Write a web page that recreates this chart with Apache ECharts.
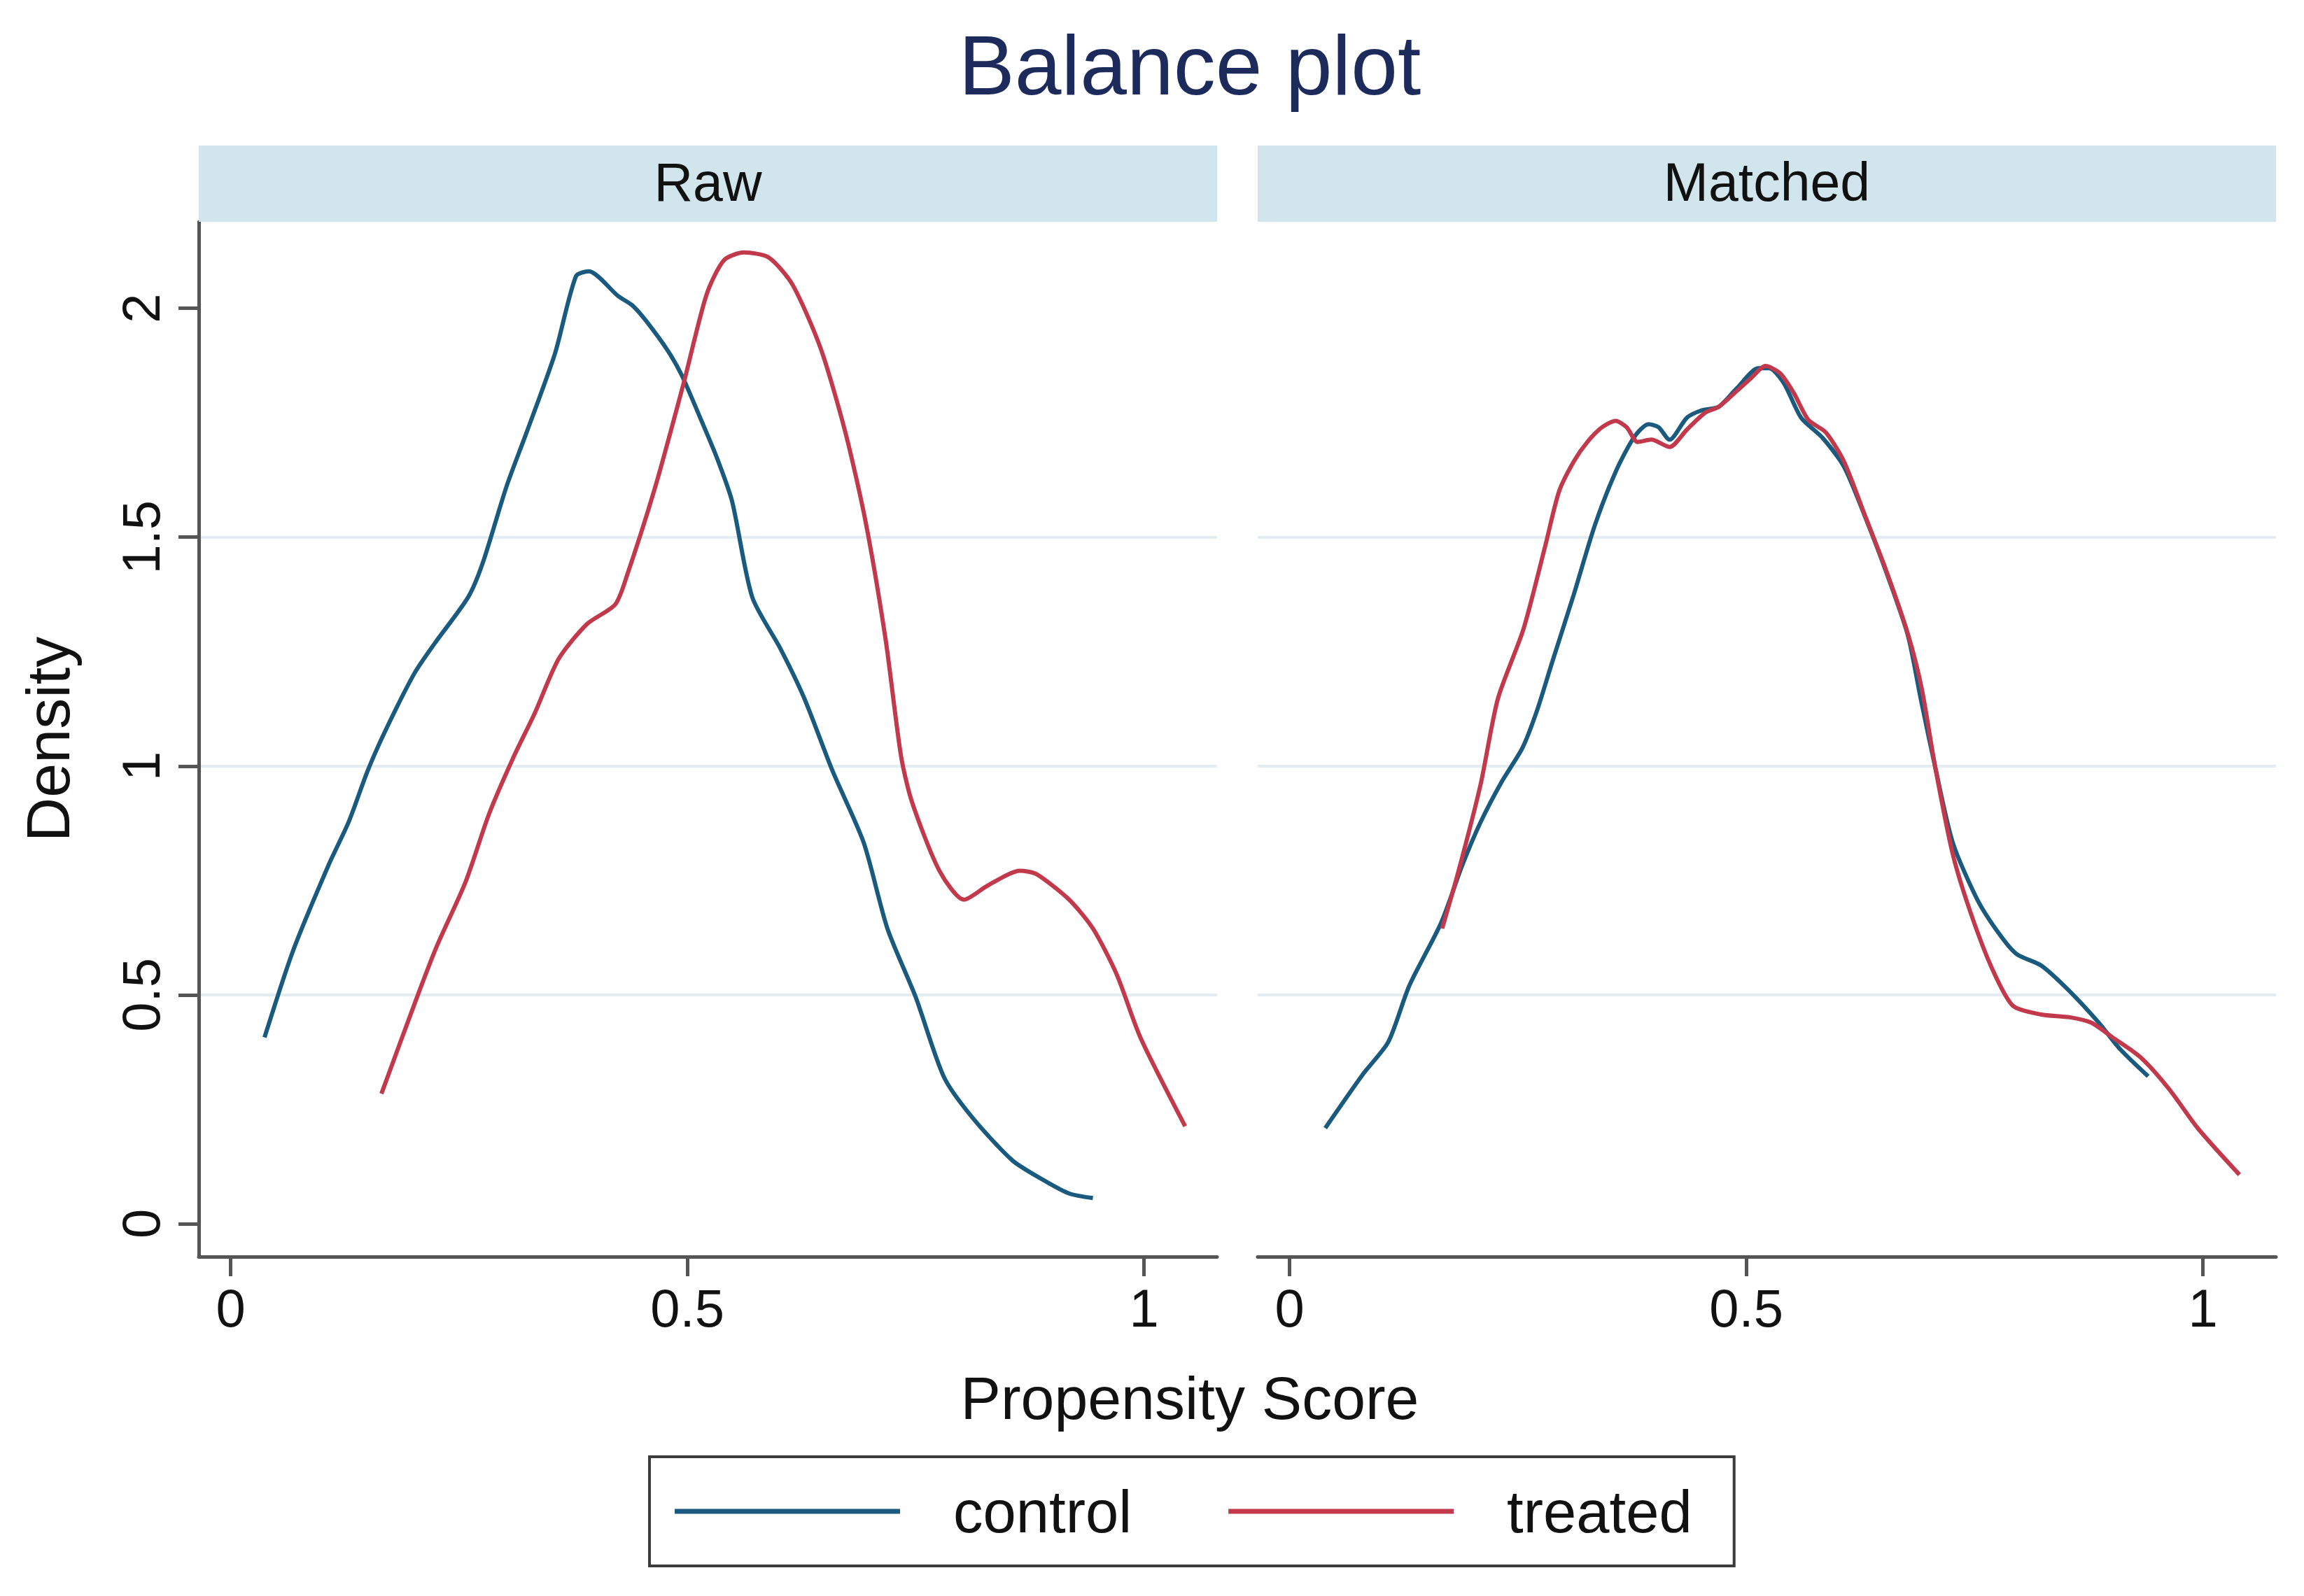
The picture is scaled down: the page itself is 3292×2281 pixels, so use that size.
<!DOCTYPE html>
<html>
<head>
<meta charset="utf-8">
<title>Balance plot</title>
<script src="https://cdn.jsdelivr.net/npm/echarts@6/dist/echarts.min.js"></script>
<style>
  html, body { margin: 0; padding: 0; background: #fff; }
  #main { width: 3292px; height: 2281px; }
</style>
</head>
<body>
<div id="main"></div>
<script>
// panels and groups
const panels = ['Raw', 'Matched'];
const groups = ['control', 'treated'];
const xTicks = [0, 0.5, 1];
const yTicks = [0, 0.5, 1, 1.5, 2];

// density curves: [propensity score, density]
const rawControl = [
  [0.037, 0.407], [0.068, 0.595], [0.107, 0.783], [0.129, 0.877], [0.150, 0.990],
  [0.170, 1.080], [0.201, 1.202], [0.223, 1.267], [0.260, 1.369], [0.276, 1.444],
  [0.302, 1.611], [0.324, 1.729], [0.355, 1.901], [0.378, 2.070], [0.392, 2.081],
  [0.424, 2.027], [0.440, 2.006], [0.455, 1.972], [0.479, 1.906], [0.494, 1.853],
  [0.514, 1.761], [0.532, 1.675], [0.549, 1.578], [0.571, 1.369], [0.602, 1.256],
  [0.628, 1.148], [0.659, 0.989], [0.693, 0.833], [0.719, 0.645], [0.750, 0.495],
  [0.781, 0.320], [0.812, 0.232], [0.856, 0.138], [0.891, 0.094], [0.918, 0.066],
  [0.944, 0.056]
];
const rawTreated = [
  [0.165, 0.284], [0.204, 0.495], [0.226, 0.608], [0.257, 0.746], [0.283, 0.896],
  [0.310, 1.021], [0.333, 1.116], [0.359, 1.234], [0.390, 1.310], [0.421, 1.353],
  [0.434, 1.417], [0.465, 1.611], [0.496, 1.837], [0.521, 2.030], [0.540, 2.105],
  [0.562, 2.122], [0.589, 2.111], [0.615, 2.052], [0.646, 1.912], [0.673, 1.729],
  [0.695, 1.535], [0.717, 1.277], [0.734, 1.021], [0.746, 0.921], [0.776, 0.771],
  [0.803, 0.708], [0.829, 0.739], [0.864, 0.771], [0.882, 0.764], [0.918, 0.708],
  [0.944, 0.645], [0.970, 0.545], [0.996, 0.407], [1.045, 0.213]
];
const matchedControl = [
  [0.039, 0.209], [0.080, 0.326], [0.108, 0.397], [0.131, 0.520], [0.166, 0.658],
  [0.189, 0.783], [0.209, 0.877], [0.232, 0.965], [0.255, 1.040], [0.271, 1.122],
  [0.287, 1.224], [0.311, 1.374], [0.334, 1.525], [0.357, 1.643], [0.377, 1.718],
  [0.393, 1.747], [0.404, 1.740], [0.416, 1.713], [0.435, 1.761], [0.451, 1.777],
  [0.470, 1.785], [0.490, 1.826], [0.513, 1.869], [0.525, 1.869], [0.541, 1.837],
  [0.560, 1.761], [0.583, 1.718], [0.607, 1.654], [0.630, 1.545], [0.653, 1.425],
  [0.677, 1.285], [0.691, 1.147], [0.707, 0.996], [0.726, 0.833], [0.753, 0.708],
  [0.777, 0.633], [0.796, 0.589], [0.823, 0.564], [0.854, 0.508], [0.886, 0.439],
  [0.909, 0.382], [0.940, 0.322]
];
const matchedTreated = [
  [0.167, 0.645], [0.185, 0.771], [0.209, 0.959], [0.228, 1.147], [0.256, 1.299],
  [0.280, 1.482], [0.295, 1.600], [0.311, 1.665], [0.326, 1.708], [0.342, 1.740],
  [0.357, 1.754], [0.369, 1.740], [0.381, 1.708], [0.396, 1.713], [0.416, 1.697],
  [0.435, 1.735], [0.455, 1.772], [0.470, 1.785], [0.490, 1.820], [0.505, 1.847],
  [0.521, 1.874], [0.537, 1.858], [0.552, 1.815], [0.568, 1.756], [0.587, 1.729],
  [0.607, 1.665], [0.630, 1.547], [0.653, 1.428], [0.677, 1.288], [0.692, 1.170],
  [0.707, 0.996], [0.726, 0.808], [0.745, 0.683], [0.769, 0.558], [0.792, 0.476],
  [0.823, 0.457], [0.854, 0.451], [0.878, 0.439], [0.901, 0.407], [0.932, 0.363],
  [0.963, 0.294], [0.995, 0.207], [1.040, 0.107]
];

const curves = [
  { panel: 0, group: 0, data: rawControl },
  { panel: 0, group: 1, data: rawTreated },
  { panel: 1, group: 0, data: matchedControl },
  { panel: 1, group: 1, data: matchedTreated }
];

const colors = ['#1a5a7f', '#c1394b'];
const FONT = 'Liberation Sans, Arial, Helvetica, sans-serif';
const AXIS = '#555555';

// layout
const gridLefts = [284, 1797];
const gridW = 1455;
const gridTop = 317;
const gridH = 1479;
const stripH = 109;

const chart = echarts.init(document.getElementById('main'), null, { renderer: 'svg' });

const option = {
  backgroundColor: '#ffffff',
  animation: false,
  color: colors,
  title: [
    {
      text: 'Balance plot', left: 1700, top: 93, padding: 0,
      textAlign: 'center', textVerticalAlign: 'middle',
      textStyle: { fontSize: 120, fontWeight: 'normal', color: '#1c2b5c', fontFamily: FONT }
    },
    {
      text: 'Propensity Score', left: 1700, top: 1998, padding: 0,
      textAlign: 'center', textVerticalAlign: 'middle',
      textStyle: { fontSize: 86, fontWeight: 'normal', color: '#111', fontFamily: FONT }
    }
  ].concat(panels.map((p, i) => ({
    text: p, left: gridLefts[i] + gridW / 2, top: gridTop - stripH / 2 - 3, padding: 0,
    textAlign: 'center', textVerticalAlign: 'middle', z: 10,
    textStyle: { fontSize: 77, fontWeight: 'normal', color: '#111', fontFamily: FONT }
  }))),
  graphic: panels.map((p, i) => ({
    type: 'rect', z: 1,
    shape: { x: gridLefts[i], y: gridTop - stripH, width: gridW, height: stripH },
    style: { fill: '#d1e5ec' }
  })),
  legend: {
    data: groups,
    icon: 'rect',
    left: 928, top: 2082,
    padding: [35, 60, 35, 36],
    itemGap: 138,
    itemWidth: 322,
    itemHeight: 7,
    borderColor: '#3c3c3c',
    borderWidth: 4,
    textStyle: { fontSize: 85, color: '#111', fontFamily: FONT, lineHeight: 86, padding: [0, 0, 0, 71] }
  },
  grid: gridLefts.map(l => ({ left: l, top: gridTop, width: gridW, height: gridH })),
  xAxis: panels.map((p, i) => ({
    type: 'value', gridIndex: i, min: -0.035, max: 1.08,
    axisLine: { show: true, onZero: false, lineStyle: { color: AXIS, width: 5 } },
    axisTick: { show: true, length: 28, customValues: xTicks, lineStyle: { color: AXIS, width: 5 } },
    axisLabel: { customValues: xTicks, fontSize: 76, margin: 35, color: '#111', fontFamily: FONT },
    splitLine: { show: false }
  })),
  yAxis: panels.map((p, i) => ({
    type: 'value', gridIndex: i, min: -0.072, max: 2.189,
    name: i === 0 ? 'Density' : '',
    nameLocation: 'middle', nameGap: 172,
    nameTextStyle: { fontSize: 88, color: '#111', fontFamily: FONT },
    axisLine: { show: i === 0, onZero: false, lineStyle: { color: AXIS, width: 5 } },
    axisTick: { show: i === 0, length: 29, customValues: yTicks, lineStyle: { color: AXIS, width: 5 } },
    axisLabel: { show: i === 0, customValues: yTicks, rotate: 90, fontSize: 76, margin: 45, color: '#111', fontFamily: FONT },
    splitLine: { show: true, showMinLine: false, showMaxLine: false, lineStyle: { color: '#e3edf1', width: 4 } }
  })),
  series: curves.map(c => ({
    type: 'line',
    name: groups[c.group],
    xAxisIndex: c.panel,
    yAxisIndex: c.panel,
    data: c.data,
    symbol: 'none',
    smooth: 0.25,
    color: colors[c.group],
    lineStyle: { width: 6, color: colors[c.group] },
    z: 3
  }))
};

chart.setOption(option);
</script>
</body>
</html>
